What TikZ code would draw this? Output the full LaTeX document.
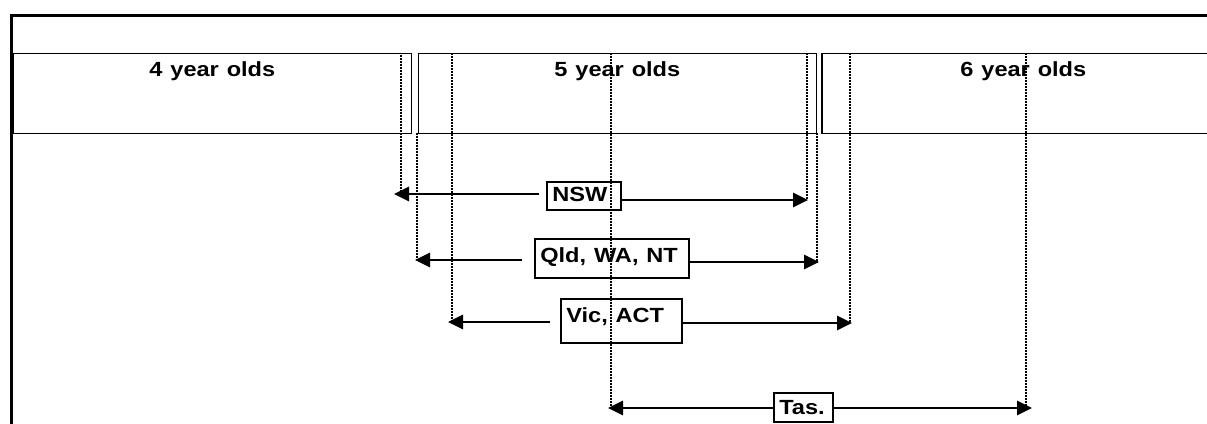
\documentclass[tikz,border=0pt]{standalone}
\usepackage{fontspec}
\setmainfont{Liberation Sans}
\usetikzlibrary{arrows.meta}
\newcommand{\widetxt}[1]{\scalebox{1.15}[1]{#1}}

\begin{document}
\begin{tikzpicture}[x=1pt,y=-1pt,font=\fontsize{20.5}{24}\selectfont\bfseries,
  yearbox/.style={draw,line width=1.7pt,anchor=north west,inner sep=0pt,align=center,
    text height=23.5pt,text depth=56.5pt},
  statebox/.style={draw,line width=1.6pt,anchor=north west,inner xsep=5.5pt,inner ysep=0pt,align=left},
  arr/.style={line width=2.7pt,-{Triangle[length=15pt,width=14pt]}},
  guide/.style={line width=2pt,dash pattern=on 2pt off 1pt}]
 \useasboundingbox (0,0) rectangle (1207,423);
 \clip (0,0) rectangle (1207,423);
 % frame, open to the right and below
 \draw[line width=3pt] (11,440)--(11,15)--(1230,15);
 % the three age groups
 \node[yearbox,text width=398pt] (y4) at (12.5,52.5) {\widetxt{4 year olds}};
 \node[yearbox,text width=398pt] (y5) at (417.5,52.5) {\widetxt{5 year olds}};
 \node[yearbox,text width=403pt] (y6) at (821,52.5) {\widetxt{6 year olds}};
 % cut-off lines
 \foreach \x/\ya/\yb in {401/55/194,417/132.5/260,452/53/322,611/53/408,
   807/53/200,817/132.5/262,850/53/322,1026/53/408}
   \draw[guide] (\x,\ya)--(\x,\yb);
 % states
 \node[statebox,text width=63pt,text height=19.7pt,text depth=8.3pt] (nsw) at (546,181) {\widetxt{NSW}};
 \node[statebox,text width=143pt,text height=24pt,text depth=15pt] (qld) at (534,238) {\widetxt{Qld, WA, NT}};
 \node[statebox,text width=110pt,text height=23.7pt,text depth=20.3pt] (vic) at (560,298) {\widetxt{Vic, ACT}};
 \node[statebox,text width=48pt,text height=22pt,text depth=7pt] (tas) at (773,392) {\widetxt{Tas.}};
 \coordinate (nswL) at (394,194); \coordinate (nswR) at (808,200);
 \coordinate (qldL) at (415,260); \coordinate (qldR) at (819,262);
 \coordinate (vicL) at (448,322); \coordinate (vicR) at (852,323);
 \coordinate (tasL) at (608,408); \coordinate (tasR) at (1032,408);
 \draw[arr,shorten <=7pt] (nsw.west |- nswL)--(nswL);
 \draw[arr] (nsw.east |- nswR)--(nswR);
 \draw[arr,shorten <=12pt] (qld.west |- qldL)--(qldL);
 \draw[arr] (qld.east |- qldR)--(qldR);
 \draw[arr,shorten <=10pt] (vic.west |- vicL)--(vicL);
 \draw[arr] (vic.east |- vicR)--(vicR);
 \draw[arr] (tas.west |- tasL)--(tasL);
 \draw[arr] (tas.east |- tasR)--(tasR);
\end{tikzpicture}
\end{document}
